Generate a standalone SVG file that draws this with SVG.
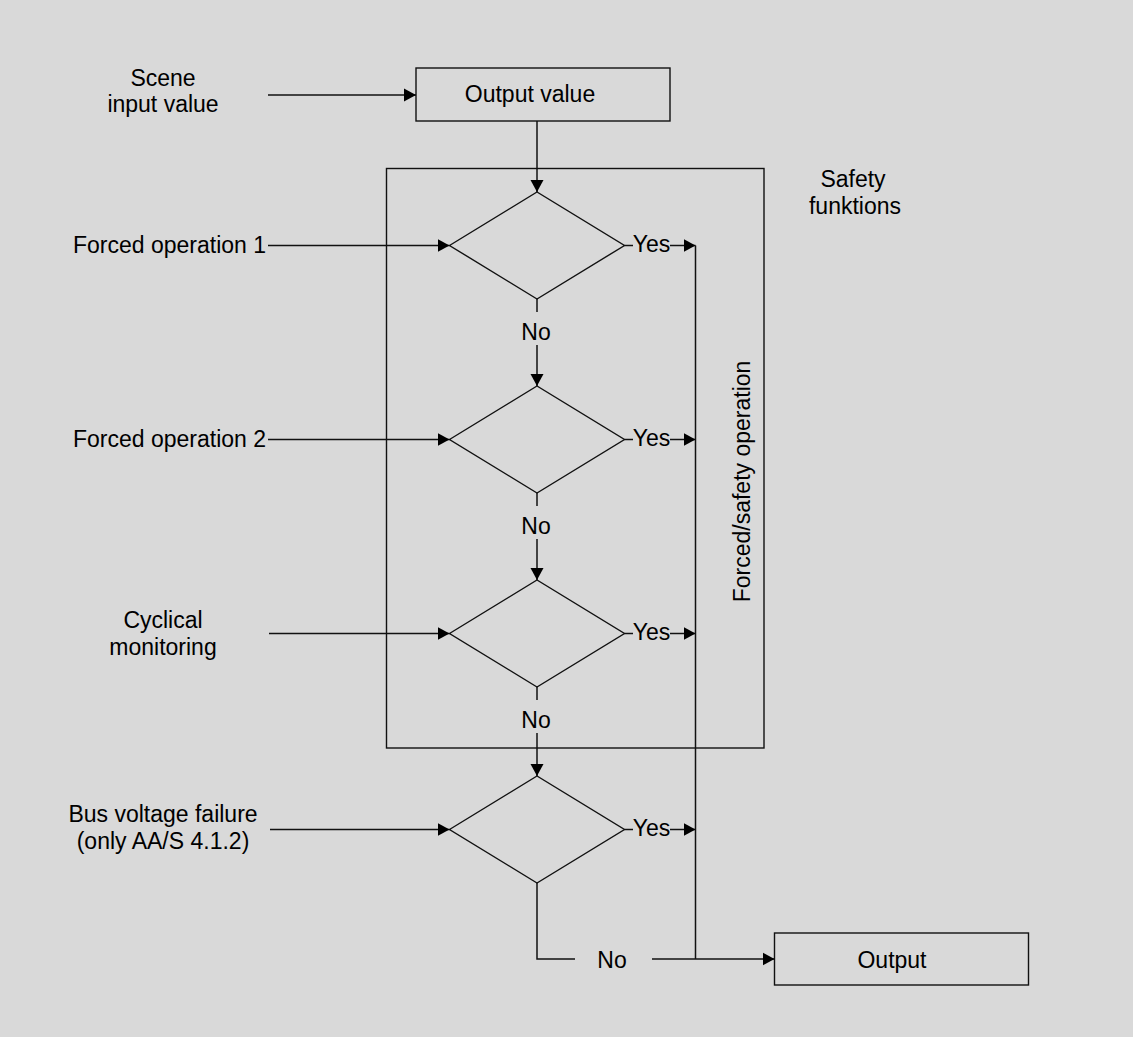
<svg xmlns="http://www.w3.org/2000/svg" width="1133" height="1037" viewBox="0 0 1133 1037">
<style>
.bg{fill:#d9d9d9}
.shape{fill:none;stroke:#111;stroke-width:1.4}
.ln{fill:none;stroke:#111;stroke-width:1.5}
.t{font-family:"Liberation Sans",Arial,Helvetica,sans-serif;font-size:23px;fill:#000;text-anchor:middle}
</style>
<defs>
<marker id="ah" markerUnits="userSpaceOnUse" markerWidth="13" markerHeight="14" refX="12" refY="7" orient="auto">
<path d="M0,0.5 L12,7 L0,13.5 z" fill="#000"/>
</marker>
</defs>
<rect class="bg" x="0" y="0" width="1133" height="1037"/>

<g id="scene-input">
<text class="t" x="163" y="86">Scene</text>
<text class="t" x="163" y="112">input value</text>
</g>
<g id="output-value">
<rect class="shape" x="416" y="68" width="254" height="53"/>
<text class="t" x="530" y="102">Output value</text>
</g>
<g id="safety-functions">
<rect class="shape" x="386.5" y="168.5" width="377.5" height="579.5"/>
<text class="t" x="853" y="187">Safety</text>
<text class="t" x="855" y="214">funktions</text>
</g>
<g id="forced-safety-label">
<text class="t" transform="translate(750,481.5) rotate(-90)" x="0" y="0">Forced/safety operation</text>
</g>
<g id="input-forced1"><text class="t" x="169.5" y="253">Forced operation 1</text></g>
<g id="input-forced2"><text class="t" x="169.5" y="447">Forced operation 2</text></g>
<g id="input-cyclical">
<text class="t" x="163" y="628">Cyclical</text>
<text class="t" x="163" y="655">monitoring</text>
</g>
<g id="input-bus">
<text class="t" x="163" y="822">Bus voltage failure</text>
<text class="t" x="163" y="849">(only AA/S 4.1.2)</text>
</g>
<g id="decision1"><polygon class="shape" points="449.5,245.5 537,192 624.5,245.5 537,299"/></g>
<g id="decision2"><polygon class="shape" points="449.5,439.5 537,386 624.5,439.5 537,493"/></g>
<g id="decision3"><polygon class="shape" points="449.5,633.5 537,580 624.5,633.5 537,687"/></g>
<g id="decision4"><polygon class="shape" points="449.5,829.5 537,776 624.5,829.5 537,883"/></g>
<g id="output">
<rect class="shape" x="774.5" y="933" width="254" height="52"/>
<text class="t" x="892" y="968">Output</text>
</g>

<g id="connectors">
<path class="ln" d="M268,95 H416" marker-end="url(#ah)"/>
<path class="ln" d="M537,121 V192" marker-end="url(#ah)"/>
<path class="ln" d="M268,245.5 H449.5" marker-end="url(#ah)"/>
<path class="ln" d="M268,439.5 H449.5" marker-end="url(#ah)"/>
<path class="ln" d="M269,633.5 H449.5" marker-end="url(#ah)"/>
<path class="ln" d="M270,829.5 H449.5" marker-end="url(#ah)"/>

<path class="ln" d="M624.5,245.5 H633"/>
<path class="ln" d="M670,245.5 H695.5" marker-end="url(#ah)"/>
<text class="t" x="651.5" y="252">Yes</text>
<path class="ln" d="M624.5,439.5 H633"/>
<path class="ln" d="M670,439.5 H695.5" marker-end="url(#ah)"/>
<text class="t" x="651.5" y="446">Yes</text>
<path class="ln" d="M624.5,633.5 H633"/>
<path class="ln" d="M670,633.5 H695.5" marker-end="url(#ah)"/>
<text class="t" x="651.5" y="640">Yes</text>
<path class="ln" d="M624.5,829.5 H633"/>
<path class="ln" d="M670,829.5 H695.5" marker-end="url(#ah)"/>
<text class="t" x="651.5" y="836">Yes</text>

<path class="ln" d="M537,299 V312"/>
<text class="t" x="536" y="340">No</text>
<path class="ln" d="M537,345 V386" marker-end="url(#ah)"/>
<path class="ln" d="M537,493 V506"/>
<text class="t" x="536" y="534">No</text>
<path class="ln" d="M537,539 V580" marker-end="url(#ah)"/>
<path class="ln" d="M537,687 V700"/>
<text class="t" x="536" y="728">No</text>
<path class="ln" d="M537,733 V776" marker-end="url(#ah)"/>

<path class="ln" d="M695.5,245.5 V959"/>
<path class="ln" d="M537,883 V959 H575"/>
<text class="t" x="612" y="968">No</text>
<path class="ln" d="M652,959 H774.5" marker-end="url(#ah)"/>
</g>
</svg>
